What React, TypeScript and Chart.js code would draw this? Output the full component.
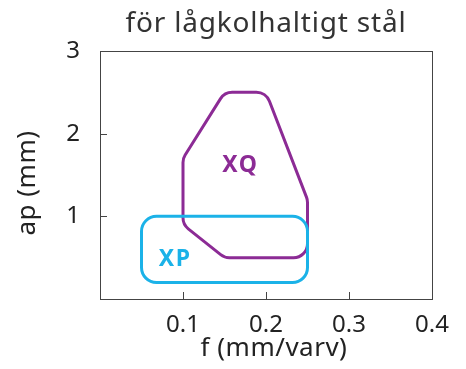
import React, { useEffect, useRef } from "react";
import { Chart, registerables } from "chart.js";

Chart.register(...registerables);

const TITLE = "för lågkolhaltigt stål";
const X_TITLE = "f (mm/varv)";
const Y_TITLE = "ap (mm)";

const xqF = [0.1, 0.15, 0.25, 0.25, 0.2, 0.15, 0.1];
const xqAp = [0.9, 0.5, 0.5, 1.2, 2.5, 2.5, 1.7];
const xpF = [0.05, 0.25, 0.25, 0.05];
const xpAp = [0.2, 0.2, 1.0, 1.0];
const labelNames = ["XQ", "XP"];
const labelF = [0.169, 0.0905];
const labelAp = [1.61, 0.48];

const PURPLE = "#8C2B95";
const BLUE = "#1BB2E8";
const FONT = "'Noto Sans', sans-serif";

function roundedPoly(ctx: CanvasRenderingContext2D, pts: { x: number; y: number }[], r: number) {
  const n = pts.length;
  ctx.beginPath();
  const mid = { x: (pts[n - 1].x + pts[0].x) / 2, y: (pts[n - 1].y + pts[0].y) / 2 };
  ctx.moveTo(mid.x, mid.y);
  for (let i = 0; i < n; i++) {
    const p = pts[i];
    const q = pts[(i + 1) % n];
    ctx.arcTo(p.x, p.y, q.x, q.y, r);
  }
  ctx.closePath();
}

const shapePlugin = {
  id: "shapes",
  afterDatasetsDraw(chart: any) {
    const { ctx, chartArea, scales } = chart;
    const xs = scales.x;
    const ys = scales.y;
    ctx.save();
    // box
    ctx.strokeStyle = "#444";
    ctx.lineWidth = 1;
    ctx.strokeRect(chartArea.left + 0.5, chartArea.top + 0.5, chartArea.right - chartArea.left, chartArea.bottom - chartArea.top);
    // inner ticks
    xs.ticks.forEach((t: any) => {
      if (t.value <= 0 || t.value >= 0.4 - 1e-9) return;
      const px = Math.round(xs.getPixelForValue(t.value)) + 0.5;
      ctx.beginPath();
      ctx.moveTo(px, chartArea.bottom);
      ctx.lineTo(px, chartArea.bottom - 7);
      ctx.stroke();
    });
    ys.ticks.forEach((t: any) => {
      if (t.value <= 0 || t.value >= 3 - 1e-9) return;
      const py = Math.round(ys.getPixelForValue(t.value)) + 0.5;
      ctx.beginPath();
      ctx.moveTo(chartArea.left, py);
      ctx.lineTo(chartArea.left + 7, py);
      ctx.stroke();
    });
    // shapes
    chart.data.datasets.forEach((ds: any) => {
      const pts = ds.data.map((d: any) => ({ x: xs.getPixelForValue(d.x), y: ys.getPixelForValue(d.y) }));
      ctx.strokeStyle = ds.shapeColor;
      ctx.lineWidth = 3;
      ctx.lineJoin = "round";
      roundedPoly(ctx, pts, ds.cornerRadius);
      ctx.stroke();
    });
    // labels
    ctx.font = `bold 23px ${FONT}`;
    (ctx as any).letterSpacing = "1.5px";
    ctx.textAlign = "center";
    ctx.textBaseline = "middle";
    labelNames.forEach((name, i) => {
      ctx.fillStyle = i === 0 ? PURPLE : BLUE;
      ctx.fillText(name, xs.getPixelForValue(labelF[i]), ys.getPixelForValue(labelAp[i]));
    });
    // title
    const cx = (chartArea.left + chartArea.right) / 2;
    ctx.font = `28px ${FONT}`;
    (ctx as any).letterSpacing = "0.8px";
    ctx.fillStyle = "#333";
    ctx.textBaseline = "alphabetic";
    ctx.fillText(TITLE, cx, 32);
    // axis titles
    ctx.font = `26px ${FONT}`;
    (ctx as any).letterSpacing = "0.5px";
    ctx.fillStyle = "#222";
    ctx.textBaseline = "middle";
    ctx.fillText(X_TITLE, cx + 8, 349);
    ctx.save();
    ctx.translate(28, (chartArea.top + chartArea.bottom) / 2 + 8);
    ctx.rotate(-Math.PI / 2);
    ctx.fillText(Y_TITLE, 0, 0);
    ctx.restore();
    ctx.restore();
  },
};

export default function App() {
  const ref = useRef<HTMLCanvasElement>(null);
  useEffect(() => {
    const chart = new Chart(ref.current!, {
      type: "scatter",
      data: {
        datasets: [
          {
            label: "XQ",
            data: xqF.map((f, i) => ({ x: f, y: xqAp[i] })),
            pointRadius: 0,
            borderWidth: 0,
            showLine: false,
            shapeColor: PURPLE,
            cornerRadius: 14,
          } as any,
          {
            label: "XP",
            data: xpF.map((f, i) => ({ x: f, y: xpAp[i] })),
            pointRadius: 0,
            borderWidth: 0,
            showLine: false,
            shapeColor: BLUE,
            cornerRadius: 15,
          } as any,
        ],
      },
      options: {
        animation: false,
        responsive: true,
        maintainAspectRatio: false,
        layout: { padding: { left: 0, right: 34, top: 51, bottom: 0 } },
        plugins: {
          legend: { display: false },
          tooltip: { enabled: false },
          title: { display: false },
        },
        scales: {
          x: {
            type: "linear",
            min: 0,
            max: 0.4,
            grid: { display: false, drawTicks: false },
            border: { display: false },
            afterFit: (s: any) => {
              s.height = 70;
            },
            ticks: {
              stepSize: 0.1,
              padding: 12,
              color: "#222",
              font: { family: FONT, size: 24 },
              callback: (v: any) => (v === 0 ? "" : Number(v).toFixed(1)),
            },
          },
          y: {
            type: "linear",
            min: 0,
            max: 3,
            grid: { display: false, drawTicks: false },
            border: { display: false },
            afterFit: (s: any) => {
              s.width = 100;
            },
            ticks: {
              stepSize: 1,
              padding: 20,
              color: "#222",
              font: { family: FONT, size: 24 },
              callback: (v: any) => (v === 0 ? "" : String(v)),
            },
          },
        },
      },
      plugins: [shapePlugin],
    });
    return () => chart.destroy();
  }, []);
  return (
    <div style={{ position: "fixed", left: 0, top: 0, width: 466, height: 369 }}>
      <canvas ref={ref} />
    </div>
  );
}
